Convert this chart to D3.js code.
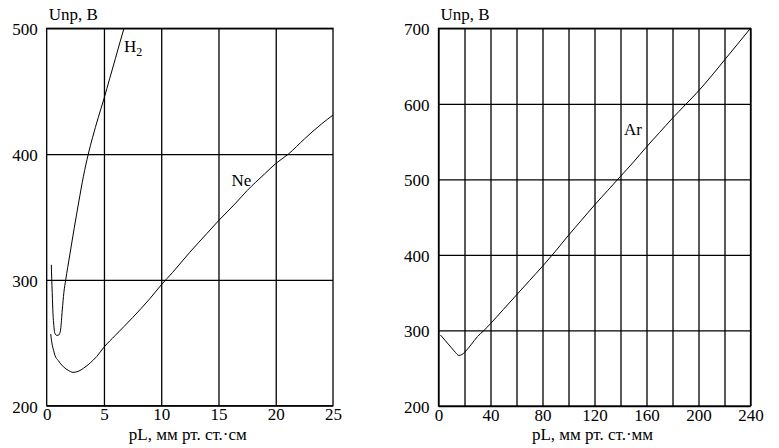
<!DOCTYPE html>
<html>
<head>
<meta charset="utf-8">
<script src="https://cdn.jsdelivr.net/npm/d3@7"></script>
<style>
  body { margin: 0; background: #fff; }
  text { font-family: "Liberation Serif", "Times New Roman", serif; fill: #000; }
</style>
</head>
<body>
<div class="chart"></div>
<script>
// left panel: H2 and Ne, pL in мм рт. ст.·см
const h2X = [0.4, 0.48, 0.55, 0.62, 0.7, 0.85, 0.99, 1.12, 1.22, 1.36, 1.5, 1.66, 2.0, 2.4, 2.8, 3.2, 3.63, 4.0, 4.5, 5.0, 5.5, 6.0, 6.4, 6.75];
const h2Y = [312, 290, 273, 264, 258, 256, 256, 257, 261, 276, 290, 300, 319, 341, 362, 382, 400, 413, 429, 444, 460, 476, 489, 500];
const neX = [0.35, 0.45, 0.6, 0.72, 1.0, 1.45, 1.9, 2.3, 2.8, 3.2, 3.8, 4.36, 5.0, 6.0, 7.5, 9.0, 10.0, 11.0, 12.5, 14.0, 15.0, 16.5, 17.5, 19.0, 20.0, 21.1, 22.5, 24.0, 25.0];
const neY = [257, 250, 244, 240, 236, 231, 228, 226.5, 227.5, 229.7, 234, 239, 246.5, 256, 270, 285, 296, 306, 322, 337, 347, 361, 371, 384, 392.5, 400, 412, 424, 431];
const leftXTicks = [0, 5, 10, 15, 20, 25];
const leftYTicks = [200, 300, 400, 500];

// right panel: Ar, pL in мм рт. ст.·мм
const arX = [1.5, 5, 10, 13, 15.5, 18, 20, 25, 30, 35, 40, 50, 60, 70, 80, 90, 100, 110, 120, 130, 140, 150, 160, 170, 180, 190, 200, 210, 220, 230, 240];
const arY = [294, 287, 277, 271, 267, 268, 271, 281, 292, 300, 309, 328, 347, 366, 385, 405, 426, 446, 466, 485, 504, 523, 543, 562, 581, 599, 617, 637, 658, 679, 700];
const rightXGrid = d3.range(0, 241, 20);
const rightXTicks = [0, 40, 80, 120, 160, 200, 240];
const rightYTicks = [200, 300, 400, 500, 600, 700];

const w = 779;
const h = 448;
const font = '"Liberation Serif", "Times New Roman", serif';

const svg = d3.select('.chart').append('svg').attr('width', w).attr('height', h);

function panel(opt) {
  const x = d3.scaleLinear().domain(opt.xDomain).range([opt.left, opt.right]);
  const y = d3.scaleLinear().domain(opt.yDomain).range([opt.bottom, opt.top]);
  const g = svg.append('g');

  // grid
  g.append('g').call(d3.axisBottom(x).tickValues(opt.xGrid).tickSize(-(opt.bottom - opt.top)).tickFormat(''))
    .attr('transform', `translate(0,${opt.bottom})`)
    .call(s => s.select('.domain').remove())
    .selectAll('line').attr('stroke', '#000').attr('stroke-width', 1.3);
  g.append('g').call(d3.axisLeft(y).tickValues(opt.yTicks).tickSize(-(opt.right - opt.left)).tickFormat(''))
    .attr('transform', `translate(${opt.left},0)`)
    .call(s => s.select('.domain').remove())
    .selectAll('line').attr('stroke', '#000').attr('stroke-width', 1.3);

  g.append('rect').attr('x', opt.left).attr('y', opt.top)
    .attr('width', opt.right - opt.left).attr('height', opt.bottom - opt.top)
    .attr('fill', 'none').attr('stroke', '#000').attr('stroke-width', 1.3);

  // tick labels
  const xa = g.append('g').attr('transform', `translate(0,${opt.bottom})`)
    .call(d3.axisBottom(x).tickValues(opt.xTicks).tickSize(0).tickPadding(2))
    .attr('font-family', font).attr('font-size', 17);
  xa.select('.domain').remove();
  xa.selectAll('text').attr('dy', '0.75em');

  const ya = g.append('g').attr('transform', `translate(${opt.left},0)`)
    .call(d3.axisLeft(y).tickValues(opt.yTicks).tickSize(0).tickPadding(9))
    .attr('font-family', font).attr('font-size', 17);
  ya.select('.domain').remove();
  ya.selectAll('text').attr('dy', '0.38em');

  g.append('text').attr('x', opt.left + 2).attr('y', 20).style('font-size', '17px').text('Unp, B');
  g.append('text').attr('x', (opt.left + opt.right) / 2 - 2).attr('y', 440).attr('text-anchor', 'middle')
    .style('font-size', '17px').text(opt.xTitle);

  const line = d3.line().x(d => x(d[0])).y(d => y(d[1])).curve(d3.curveMonotoneX);
  opt.series.forEach(s => {
    g.append('path').datum(d3.zip(s.xs, s.ys))
      .attr('d', line).attr('fill', 'none').attr('stroke', '#000').attr('stroke-width', 1);
  });
  return { x, y, g };
}

const L = panel({
  left: 46.7, right: 333, top: 28.3, bottom: 405.7,
  xDomain: [0, 25], yDomain: [200, 500],
  xGrid: [5, 10, 15, 20], xTicks: leftXTicks, yTicks: leftYTicks,
  xTitle: 'pL, мм рт. ст.·см',
  series: [{ xs: h2X, ys: h2Y }, { xs: neX, ys: neY }]
});

const hLabel = L.g.append('text').attr('x', 124).attr('y', 51.5).style('font-size', '17px');
hLabel.append('tspan').text('H');
hLabel.append('tspan').attr('dy', 4).style('font-size', '12px').text('2');
L.g.append('text').attr('x', 231.5).attr('y', 185.5).style('font-size', '17px').text('Ne');

const R = panel({
  left: 438.5, right: 750.5, top: 28.3, bottom: 406,
  xDomain: [0, 240], yDomain: [200, 700],
  xGrid: rightXGrid, xTicks: rightXTicks, yTicks: rightYTicks,
  xTitle: 'pL, мм рт. ст.·мм',
  series: [{ xs: arX, ys: arY }]
});
R.g.append('text').attr('x', 624).attr('y', 135).style('font-size', '17px').text('Ar');
</script>
</body>
</html>
